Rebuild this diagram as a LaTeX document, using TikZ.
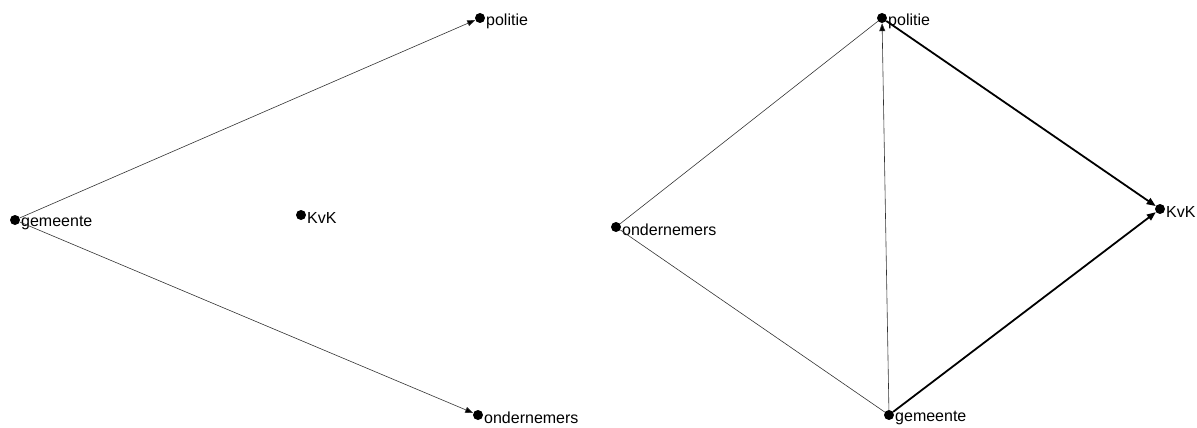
\documentclass[tikz,border=0pt]{standalone}
\usepackage{fontspec}
\setmainfont{Liberation Sans}
\usetikzlibrary{arrows.meta}
\begin{document}
\begin{tikzpicture}[x=1pt,y=-1pt,
  dot/.style={circle,fill=black,inner sep=0pt,minimum size=10pt},
  lbl/.style={font=\fontsize{16}{18}\selectfont,inner sep=0pt,anchor=west,yshift=-2pt},
  thin edge/.style={draw=black!80,line width=0.6pt,-{Triangle[length=8pt,width=6pt,fill=black]}},
  thinplain/.style={draw=black!80,line width=0.6pt},
  thick edge/.style={draw=black,line width=1.8pt,-{Triangle[length=9pt,width=7pt]}}]
\useasboundingbox (0,0) rectangle (1197,428);
% left graph
\node[dot] (lgem) at (15,220) {};
\node[dot] (lpol) at (480,18) {};
\node[dot] (lkvk) at (301,215) {};
\node[dot] (lond) at (478,415) {};
\node[lbl] (tlgem) at (21,221) {gemeente};
\node[lbl] (tlpol) at (486,19) {politie};
\node[lbl] (tlkvk) at (307,216) {KvK};
\node[lbl] (tlond) at (484,416) {ondernemers};
\draw[thin edge] (lgem) -- (lpol);
\draw[thin edge] (lgem) -- (lond);
% right graph
\node[dot] (rpol) at (882,18) {};
\node[dot] (rond) at (616,227) {};
\node[dot] (rkvk) at (1160,209) {};
\node[dot] (rgem) at (889,415) {};
\node[lbl] (trpol) at (888,19) {politie};
\node[lbl] (trond) at (622,228) {ondernemers};
\node[lbl] (trkvk) at (1166,210) {KvK};
\node[lbl] (trgem) at (895,416) {gemeente};
\draw[thinplain] (rond) -- (rpol);
\draw[thinplain] (rond) -- (rgem);
\draw[thin edge] (rgem) -- (rpol);
\draw[thick edge] (rpol) -- (rkvk);
\draw[thick edge] (rgem) -- (rkvk);
\end{tikzpicture}
\end{document}
